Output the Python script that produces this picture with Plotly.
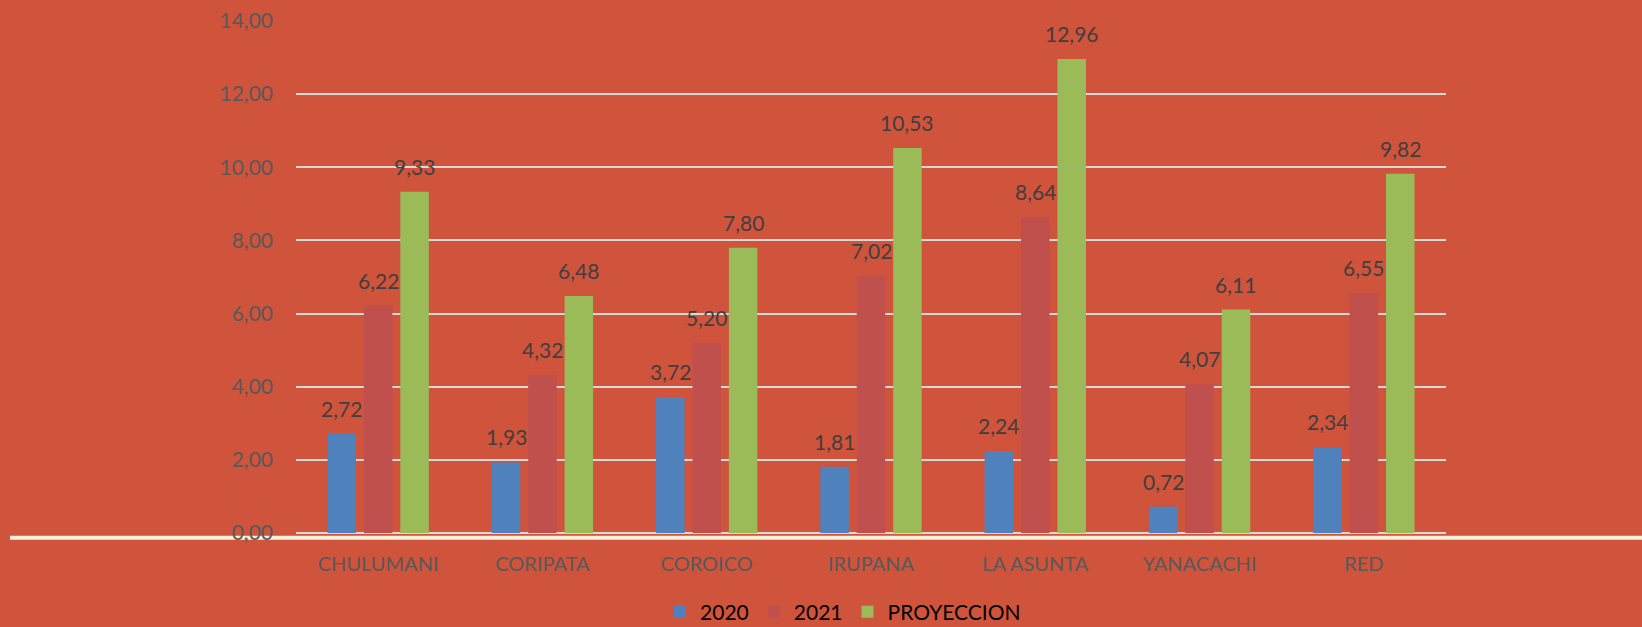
import plotly.graph_objects as go

# Data
categories = ["CHULUMANI", "CORIPATA", "COROICO", "IRUPANA", "LA ASUNTA", "YANACACHI", "RED"]
serie_2020 = [2.72, 1.93, 3.72, 1.81, 2.24, 0.72, 2.34]
serie_2021 = [6.22, 4.32, 5.20, 7.02, 8.64, 4.07, 6.55]
serie_proy = [9.33, 6.48, 7.80, 10.53, 12.96, 6.11, 9.82]
series_names = ["2020", "2021", "PROYECCION"]
y_ticks = [0, 2, 4, 6, 8, 10, 12, 14]

colors = ["#4F81BD", "#C0504D", "#9BBB59"]
BG = "#D0533C"
FONT = "Lato"

W, H = 1642, 627
M_L, M_R, M_T, M_B = 296, 196, 21, 94
BARGAP, BARGROUPGAP = 0.335, 0.217


def fmt(v):
    return f"{v:.2f}".replace(".", ",")


fig = go.Figure()
all_series = [serie_2020, serie_2021, serie_proy]
for name, vals, col in zip(series_names, all_series, colors):
    fig.add_trace(go.Bar(
        x=categories, y=vals, name=name,
        marker=dict(color=col, line=dict(width=0)),
    ))

# Value labels above each bar, shifted to their slot within the group
plot_w = W - M_L - M_R
plot_h = H - M_T - M_B
slot = plot_w / len(categories) * (1 - BARGAP) / len(all_series)
annotations = []
for k, vals in enumerate(all_series):
    for cat, v in zip(categories, vals):
        annotations.append(dict(
            x=cat, y=v, xref="x", yref="y", text=fmt(v), showarrow=False,
            xanchor="center", yanchor="bottom",
            xshift=(k - 1) * slot, yshift=11,
            font=dict(family=FONT, size=21, color="#3F3F3F"),
        ))

fig.update_layout(
    width=W, height=H,
    margin=dict(l=M_L, r=M_R, t=M_T, b=M_B, pad=0, autoexpand=False),
    paper_bgcolor=BG, plot_bgcolor=BG,
    barmode="group", bargap=BARGAP, bargroupgap=BARGROUPGAP,
    separators=",.",
    font=dict(family=FONT, size=20, color="#595959"),
    annotations=annotations,
    showlegend=True,
    legend=dict(
        orientation="h", x=0.4757, xanchor="center",
        yref="container", y=1 - 612 / H, yanchor="middle",
        font=dict(family=FONT, size=21, color="#000000"),
        bgcolor="rgba(0,0,0,0)", itemwidth=30, traceorder="normal",
    ),
    xaxis=dict(
        showgrid=False, zeroline=False, showline=False, ticks="",
        tickfont=dict(family=FONT, size=20, color="#595959"),
        ticklabelstandoff=17, automargin=False,
    ),
    yaxis=dict(
        range=[0, 14], tickvals=y_ticks, tickformat=".2f",
        showgrid=True, gridcolor="#D9D9D9", gridwidth=2,
        zeroline=True, zerolinecolor="#D9D9D9", zerolinewidth=2,
        showline=False, ticks="",
        tickfont=dict(family=FONT, size=21, color="#595959"),
        ticklabelstandoff=22, automargin=False,
    ),
    shapes=[dict(
        type="line", xref="paper", yref="paper",
        x0=(10 - M_L) / plot_w, x1=(W - M_L) / plot_w,
        y0=-4.7 / plot_h, y1=-4.7 / plot_h,
        line=dict(color="#F5F0DC", width=4), layer="below",
    )],
)

fig.write_html("out.html")
